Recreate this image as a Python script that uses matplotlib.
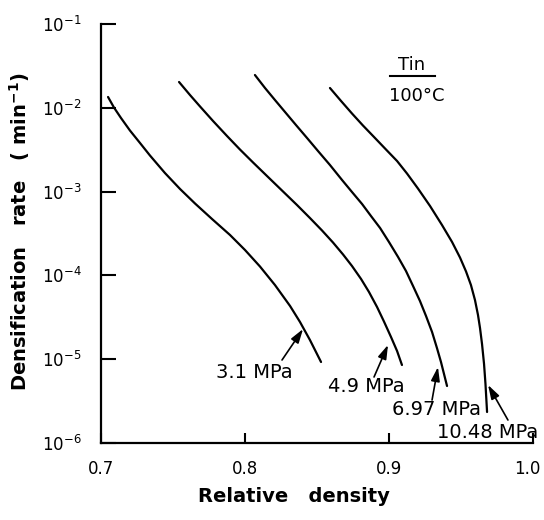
import matplotlib
matplotlib.use("Agg")
import matplotlib.pyplot as plt
import matplotlib.transforms as mtransforms
from matplotlib.lines import Line2D

plt.rcParams['font.family'] = ['DejaVu Sans']
plt.rcParams['mathtext.default'] = 'regular'

# Data (relative density, densification rate in 1/min)
d31_x = [0.7049, 0.7090, 0.7139, 0.7201, 0.7271, 0.7340, 0.7444, 0.7549, 0.7653, 0.7771, 0.7896,
         0.8000, 0.8104, 0.8208, 0.8313, 0.8382, 0.8451, 0.8528]
d31_y = [1.346e-2, 1.008e-2, 7.55e-3, 5.36e-3, 3.80e-3, 2.697e-3, 1.667e-3, 1.074e-3, 7.21e-4, 4.71e-4, 3.035e-4,
         2.010e-4, 1.277e-4, 7.68e-5, 4.314e-5, 2.779e-5, 1.695e-5, 9.26e-6]

d49_x = [0.7542, 0.7618, 0.7688, 0.7778, 0.7875, 0.7965, 0.8056, 0.8160, 0.8264, 0.8361, 0.8451,
         0.8535, 0.8611, 0.8681, 0.8743, 0.8806, 0.8861, 0.8917, 0.8965, 0.9014, 0.9056, 0.9090]
d49_y = [2.032e-2, 1.421e-2, 1.036e-2, 6.96e-3, 4.61e-3, 3.18e-3, 2.225e-3, 1.493e-3, 1.003e-3, 6.92e-4, 4.84e-4,
         3.434e-4, 2.470e-4, 1.776e-4, 1.295e-4, 9.06e-5, 6.34e-5, 4.197e-5, 2.818e-5, 1.840e-5, 1.253e-5, 8.53e-6]

d697_x = [0.8069, 0.8139, 0.8208, 0.8278, 0.8354, 0.8431, 0.8507, 0.8590, 0.8674, 0.8743, 0.8813, 0.8875,
          0.8938, 0.9000, 0.9063, 0.9118, 0.9167, 0.9215, 0.9257, 0.9299, 0.9333, 0.9361, 0.9382, 0.9403]
d697_y = [2.462e-2, 1.723e-2, 1.239e-2, 8.91e-3, 6.23e-3, 4.36e-3, 3.05e-3, 2.077e-3, 1.375e-3, 9.89e-4, 7.11e-4, 5.11e-4,
          3.68e-4, 2.50e-4, 1.658e-4, 1.128e-4, 7.47e-5, 4.95e-5, 3.28e-5, 2.112e-5, 1.36e-5, 9.26e-6, 6.66e-6, 4.79e-6]

d1048_x = [0.8590, 0.8667, 0.8743, 0.8819, 0.8896, 0.8979, 0.9056, 0.9125, 0.9201, 0.9285, 0.9368, 0.9438,
           0.9493, 0.9535, 0.9569, 0.9597, 0.9618, 0.9632, 0.9646, 0.9660, 0.9670, 0.9681]
d1048_y = [1.723e-2, 1.206e-2, 8.55e-3, 6.15e-3, 4.483e-3, 3.18e-3, 2.318e-3, 1.644e-3, 1.089e-3, 6.73e-4, 3.994e-4,
           2.503e-4, 1.635e-4, 1.113e-4, 7.68e-5, 5.087e-5, 3.369e-5, 2.357e-5, 1.518e-5, 8.77e-6, 5.06e-6,
           2.344e-6]

labels = ["3.1 MPa", "4.9 MPa", "6.97 MPa", "10.48 MPa"]
label_pos = [(0.7799, 7.0e-6), (0.8576, 4.66e-6), (0.9021, 2.48e-6), (0.9333, 1.32e-6)]
arrow_tail = [(0.8257, 9.78e-6), (0.8896, 6.13e-6), (0.9299, 3.26e-6), (0.9826, 1.88e-6)]
arrow_head = [(0.8403, 2.29e-5), (0.8993, 1.48e-5), (0.9340, 8.07e-6), (0.9688, 4.92e-6)]

xticks = [0.7, 0.8, 0.9, 1.0]
xticklabels = ["0.7", "0.8", "0.9", "1.0"]
yticks = [1e-6, 1e-5, 1e-4, 1e-3, 1e-2, 1e-1]
yticklabels = ["$10^{-6}$", "$10^{-5}$", "$10^{-4}$", "$10^{-3}$", "$10^{-2}$", "$10^{-1}$"]

W, H = 544, 520
fig = plt.figure(figsize=(W / 100, H / 100), dpi=100)
ax = fig.add_axes([101 / W, 1 - 443 / H, (533 - 101) / W, (443 - 24) / H])

curves = [(d31_x, d31_y), (d49_x, d49_y), (d697_x, d697_y), (d1048_x, d1048_y)]
for (xs, ys) in curves:
    ax.plot(xs, ys, color='black', lw=1.6, solid_capstyle='round', solid_joinstyle='round')

for lab, tpos, tail, head in zip(labels, label_pos, arrow_tail, arrow_head):
    ax.text(tpos[0], tpos[1], lab, ha='left', va='center', fontsize=14, color='black')
    ax.annotate('', xy=head, xytext=tail,
                arrowprops=dict(arrowstyle='-|>,head_length=0.7,head_width=0.22', color='black',
                                lw=1.2, mutation_scale=12, shrinkA=0, shrinkB=0))

ax.set_yscale('log')
ax.set_xlim(0.7, 1.0)
ax.set_ylim(1e-6, 1e-1)
ax.set_xticks(xticks)
ax.set_xticklabels(xticklabels, fontsize=12)
ax.set_yticks(yticks)
ax.set_yticklabels(yticklabels, fontsize=12)
ax.yaxis.set_minor_locator(matplotlib.ticker.NullLocator())
ax.tick_params(axis='y', direction='in', length=11, width=1.5, pad=14)
ax.tick_params(axis='x', direction='in', length=7, width=1.5, pad=12)
for s in ['top', 'right']:
    ax.spines[s].set_visible(False)
for s in ['left', 'bottom']:
    ax.spines[s].set_linewidth(1.6)

# keep the last x tick label inside the figure
last = ax.get_xticklabels()[-1]
last.set_horizontalalignment('right')
last.set_transform(last.get_transform() + mtransforms.ScaledTranslation(8 / 100, 0, fig.dpi_scale_trans))

fig.text(294 / W, 1 - 497 / H, "Relative   density", ha='center', va='center',
         fontsize=14, fontweight='bold')
fig.text(20 / W, 1 - 232 / H, "Densification   rate   ( min$^{-1}$)", ha='center',
         va='center', rotation=90, fontsize=14, fontweight='bold')

fig.text(412 / W, 1 - 65 / H, "Tin", ha='center', va='center', fontsize=13)
fig.add_artist(Line2D([390 / W, 435 / W], [1 - 76 / H, 1 - 76 / H], color='black', lw=1.5))
fig.text(417 / W, 1 - 96 / H, "100°C", ha='center', va='center', fontsize=13)

fig.savefig("out.png", dpi=100)
